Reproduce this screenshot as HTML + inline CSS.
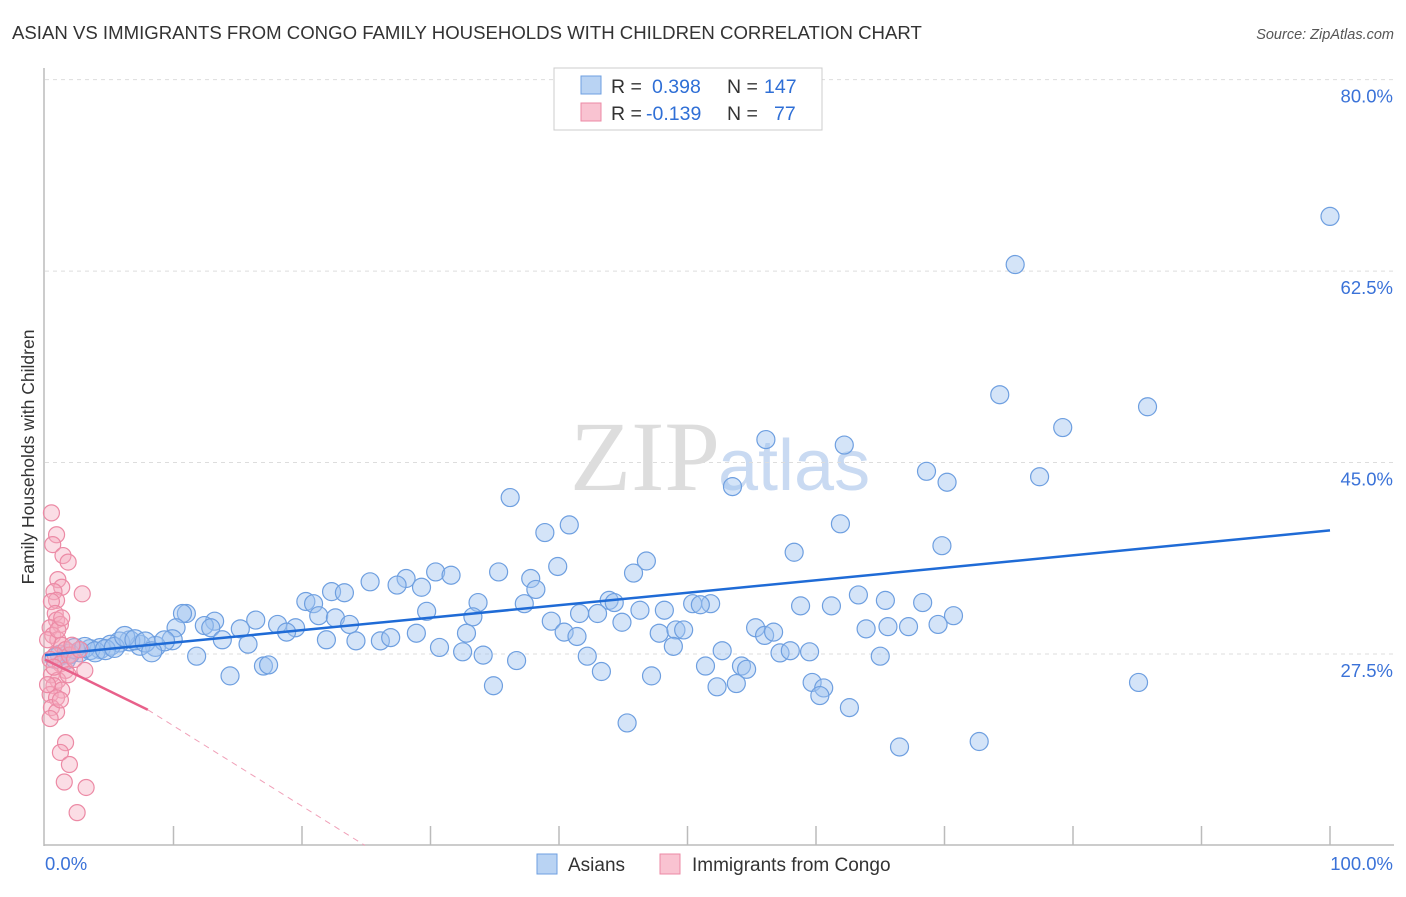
<!DOCTYPE html>
<html><head><meta charset="utf-8"><style>
body{margin:0;background:#fff;font-family:"Liberation Sans",sans-serif;}
#wrap{position:relative;width:1406px;height:892px;}
</style></head><body>
<div id="wrap">
<svg id="svg" width="1406" height="892">
<text x="12" y="39" font-size="18.6" fill="#333">ASIAN VS IMMIGRANTS FROM CONGO FAMILY HOUSEHOLDS WITH CHILDREN CORRELATION CHART</text>
<text x="1394" y="39" font-size="14.5" fill="#555" font-style="italic" text-anchor="end">Source: ZipAtlas.com</text>
<text x="720" y="490" font-size="100" fill="#ddd" font-family="Liberation Serif" text-anchor="end">ZIP</text>
<text x="718" y="490" font-size="72" fill="#c9daf2">atlas</text>
<text transform="translate(34,457) rotate(-90)" font-size="17.5" fill="#333" text-anchor="middle">Family Households with Children</text>
<g id="grid"></g><g id="axes"></g><g id="pts"></g><g id="trend"></g>
<g>
<rect x="554" y="68" width="268" height="62" fill="#fff" stroke="#ccc"/>
<rect x="581" y="76" width="20" height="18" fill="#b9d3f3" stroke="#6e9fe0"/>
<rect x="581" y="103" width="20" height="18" fill="#f9c3d1" stroke="#ec8aa5"/>
<text x="611" y="93" font-size="19.5" fill="#333">R = <tspan x="652" fill="#2f6fd6">0.398</tspan><tspan x="727">N = </tspan><tspan x="764" fill="#2f6fd6">147</tspan></text>
<text x="611" y="120" font-size="19.5" fill="#333">R = <tspan x="646" fill="#2f6fd6">-0.139</tspan><tspan x="727">N = </tspan><tspan x="774" fill="#2f6fd6">77</tspan></text>
</g>
<g>
<rect x="537" y="854" width="20" height="20" fill="#b9d3f3" stroke="#6e9fe0"/>
<text x="568" y="871" font-size="19" fill="#333">Asians</text>
<rect x="660" y="854" width="20" height="20" fill="#f9c3d1" stroke="#ec8aa5"/>
<text x="692" y="871" font-size="19" fill="#333">Immigrants from Congo</text>
</g>
</svg>
</div>
<script>
const yTicks=[27.5,45.0,62.5,80.0];
const xTickLabels=["0.0%","100.0%"];
const asianX=[100,75.5,74.3,85.8,79.2,56.1,62.2,68.6,70.2,77.4,53.5,36.2,40.8,38.9,61.9,69.8,58.3,46.8,39.9,45.8,35.3,37.8,30.4,31.6,28.1,25.3,27.4,29.3,38.2,22.3,23.3,20.3,20.9,33.7,37.3,43.9,44.3,41.6,43.0,46.3,48.2,50.4,51.8,51.0,58.8,61.2,63.3,65.4,68.3,70.7,69.5,67.2,65.6,63.9,11.0,10.7,13.2,16.4,18.1,15.2,12.4,12.9,19.5,18.8,21.3,22.6,23.7,29.7,33.3,32.8,39.4,40.4,41.4,44.9,47.8,49.1,49.7,55.3,56.0,56.7,21.9,24.2,26.1,26.9,28.9,30.7,32.5,34.1,36.7,42.2,43.3,48.9,51.4,52.7,54.2,54.6,57.2,58.0,59.5,65.0,47.2,52.3,53.8,59.7,60.6,60.3,62.6,34.9,45.3,66.5,72.7,85.1,14.4,17.0,17.4,15.8,13.8,11.8,10.2,9.9,8.6,9.3,7.4,6.6,5.8,5.1,4.3,3.5,2.7,1.9,1.2,0.8,1.6,2.3,3.1,3.9,4.7,5.4,6.2,7.0,7.8,8.3];
const asianY=[67.5,63.1,51.2,50.1,48.2,47.1,46.6,44.2,43.2,43.7,42.8,41.8,39.3,38.6,39.4,37.4,36.8,36.0,35.5,34.9,35.0,34.4,35.0,34.7,34.4,34.1,33.8,33.6,33.4,33.2,33.1,32.3,32.1,32.2,32.1,32.4,32.2,31.2,31.2,31.5,31.5,32.1,32.1,32.0,31.9,31.9,32.9,32.4,32.2,31.0,30.2,30.0,30.0,29.8,31.2,31.2,30.5,30.6,30.2,29.8,30.1,29.9,29.9,29.5,31.0,30.8,30.2,31.4,30.9,29.4,30.5,29.5,29.1,30.4,29.4,29.7,29.7,29.9,29.2,29.5,28.8,28.7,28.7,29.0,29.4,28.1,27.7,27.4,26.9,27.3,25.9,28.2,26.4,27.8,26.4,26.1,27.6,27.8,27.7,27.3,25.5,24.5,24.8,24.9,24.4,23.7,22.6,24.6,21.2,19.0,19.5,24.9,25.5,26.4,26.5,28.4,28.8,27.3,29.9,28.8,28.2,28.7,28.3,28.7,28.6,28.3,28.0,27.9,27.7,27.5,27.4,27.1,27.0,28.0,28.1,27.7,27.9,28.1,29.1,28.8,28.6,27.7];
const congoX=[0.5,0.9,0.6,1.4,1.8,1.0,1.3,0.7,0.9,2.9,0.5,0.8,0.9,1.2,0.4,0.6,1.0,1.3,1.6,0.8,0.4,1.2,1.6,0.5,1.0,0.7,1.3,0.4,0.9,0.5,0.9,0.4,1.6,1.2,1.9,1.5,3.2,2.5,0.2,1.9,2.3,2.7,1.8,2.1,3.1,1.0,1.3,0.7,0.2,1.2];
const congoY=[40.4,38.4,37.5,36.5,35.9,34.3,33.6,33.2,32.4,33.0,32.3,31.2,30.6,30.2,29.9,29.2,28.8,28.3,27.9,27.4,27.0,26.6,26.0,25.6,25.1,24.6,24.2,23.8,23.5,22.6,22.2,21.6,19.4,18.5,17.4,15.8,15.3,13.0,28.8,27.4,27.0,27.9,25.6,28.3,26.0,29.7,30.8,26.3,24.7,23.3];
const asianTrend=[[0,27.4],[100,38.8]];
const congoTrendSolid=[[0,27.0],[8,22.4]];
const congoTrendDash=[[8,22.4],[24.9,10.0]];
const NS="http://www.w3.org/2000/svg";
const sx=v=>45+v*12.85, sy=v=>654-(v-27.5)*10.94;
function mk(tag,attrs,parent){const e=document.createElementNS(NS,tag);for(const k in attrs)e.setAttribute(k,attrs[k]);parent.appendChild(e);return e;}
const grid=document.getElementById('grid'),axes=document.getElementById('axes'),pts=document.getElementById('pts'),tr=document.getElementById('trend');
yTicks.forEach(t=>{
 const l=mk('line',{x1:45,x2:1394,y1:sy(t),y2:sy(t),stroke:'#ddd','stroke-dasharray':'4,4'},grid);
 
 
 const tx=mk('text',{x:1393,y:sy(t)+23,'font-size':18.5,fill:'#3a72d8','text-anchor':'end'},axes);
 tx.textContent=t.toFixed(1)+'%';
 
 
});
mk('line',{x1:44,x2:44,y1:68,y2:846,stroke:'#bbb','stroke-width':1.5},axes);
mk('line',{x1:44,x2:1394,y1:845,y2:845,stroke:'#bbb','stroke-width':1.5},axes);
for(let i=1;i<=10;i++){const t=mk('line',{x1:sx(i*10),x2:sx(i*10),y1:826,y2:845,stroke:'#bbb','stroke-width':1.5},axes);
 
 }
const xl0=mk('text',{x:45,y:870,'font-size':18.5,fill:'#3a72d8'},axes);xl0.textContent=xTickLabels[0];


const xl1=mk('text',{x:1393,y:870,'font-size':18.5,fill:'#3a72d8','text-anchor':'end'},axes);xl1.textContent=xTickLabels[1];


asianX.forEach((x,i)=>{const c=mk('circle',{cx:sx(x),cy:sy(asianY[i]),r:x<10?10:9,fill:'rgba(160,196,240,0.45)',stroke:'#6e9fe0','stroke-width':1.2},pts);
 
 });
congoX.forEach((x,i)=>{const c=mk('circle',{cx:sx(x),cy:sy(congoY[i]),r:8,fill:'rgba(245,170,190,0.4)',stroke:'#ec8aa5','stroke-width':1.2},pts);
 
 });
const bl=mk('line',{x1:sx(asianTrend[0][0]),y1:sy(asianTrend[0][1]),x2:sx(asianTrend[1][0]),y2:sy(asianTrend[1][1]),stroke:'#1f6bd6','stroke-width':2.5},tr);


const pl=mk('line',{x1:sx(congoTrendSolid[0][0]),y1:sy(congoTrendSolid[0][1]),x2:sx(congoTrendSolid[1][0]),y2:sy(congoTrendSolid[1][1]),stroke:'#e8608a','stroke-width':2.5},tr);


const pd=mk('line',{x1:sx(congoTrendDash[0][0]),y1:sy(congoTrendDash[0][1]),x2:sx(congoTrendDash[1][0]),y2:sy(congoTrendDash[1][1]),stroke:'#f0a0b8','stroke-width':1,'stroke-dasharray':'6,5'},tr);


</script>
</body></html>
